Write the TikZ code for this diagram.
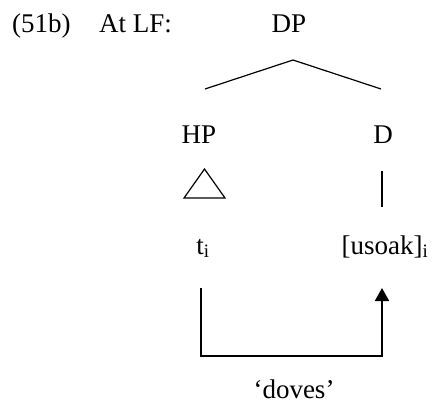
\documentclass[tikz,border=0pt]{standalone}
\usepackage{fontspec}
\setmainfont{Liberation Serif}
\usetikzlibrary{arrows.meta}

\begin{document}
\begin{tikzpicture}[x=1pt, y=-1pt,
    word/.style ={inner sep=0pt, anchor=base, font=\fontsize{27}{31}\selectfont},
    branch/.style ={line width=1.2pt},
    movement/.style ={line width=2pt, -{Triangle[length=13pt,width=14pt]}}]
   \useasboundingbox (0,0) rectangle (435,417);
   \node[word, anchor=base west] (ex) at (12,33) {(51b)};
   \node[word, anchor=base west] (lf) at (99,33) {At LF:};
   \node[word] (DP) at (289,33) {DP};
   \node[word] (HP) at (199,143) {HP};
   \node[word] (D) at (383,143) {D};
   \node[word] (t) at (203,254) {t\textsubscript{i}};
   \node[word] (usoak) at (385,254) {[usoak]\textsubscript{i}};
   \node[word] (gloss) at (294,398) {‘doves’};
   \coordinate (DPfoot) at (293,60);
   \coordinate (HProof) at (205,89);
   \coordinate (Droof) at (381,89);
   \coordinate (HPfoot) at (204.5,169);
   \coordinate (Dfoot) at (382,171);
   \coordinate (usoakroof) at (382,207);
   \coordinate (tfoot) at (201,288);
   \coordinate (usoakfoot) at (382,288);
   \draw[branch] (HProof) -- (DPfoot) -- (Droof);
   \draw[branch] (HPfoot) -- ++(-20.5,29) -- ++(41,0) -- cycle;
   \draw[branch] (Dfoot) -- (usoakroof);
   \draw[movement] (tfoot) -- ++(0,68) -| (usoakfoot);
 \end{tikzpicture}
\end{document}
